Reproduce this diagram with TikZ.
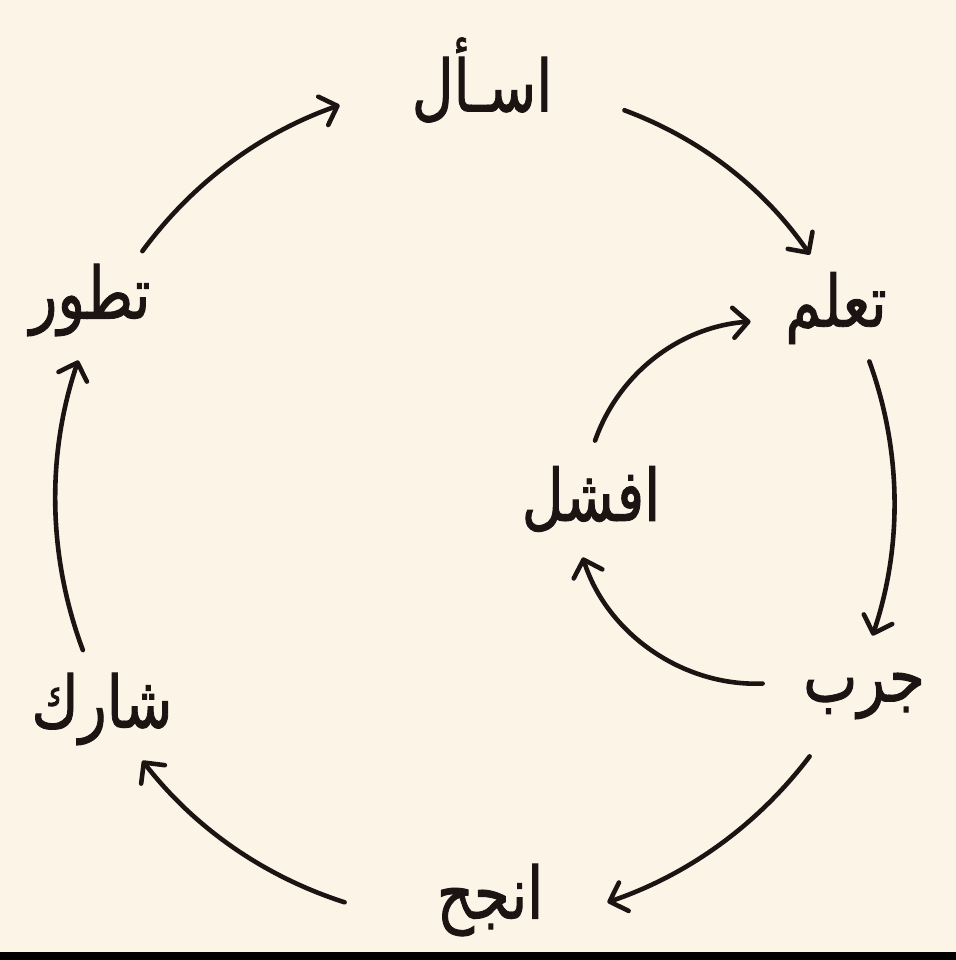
\documentclass[tikz,border=0pt]{standalone}
\usepackage{fontspec}
\newfontfamily\arabicfont[Script=Arabic,FakeStretch=0.8,FakeBold=1.2]{DejaVu Sans}
\TeXXeTstate=1
\usetikzlibrary{arrows.meta}
\definecolor{bg}{RGB}{253,244,232}
\definecolor{ink}{RGB}{28,20,18}
\newcommand{\arword}[2][0pt]{\makebox[0pt]{\kern#1\arabicfont\beginR #2\endR}}
\begin{document}
\begin{tikzpicture}[x=0.5pt,y=-0.5pt,
  word/.style={inner sep=0pt, text=ink, font=\fontsize{36}{42}\selectfont},
  arr/.style={draw=ink, line width=2.3pt, line cap=round,
    -{Straight Barb[length=7.5pt,width=15pt,round]}, looseness=0.88}]
\fill[bg] (0,0) rectangle (956,960);
\fill[black] (0,952) rectangle (956,960);
\useasboundingbox (0,0) rectangle (956,960);

\node[word, minimum width=52pt,  minimum height=60pt]   (T) at (90,300)  {\arword{تطور}};
\node[word, minimum width=142pt, minimum height=27pt]   (S) at (482,80)  {\arword{اسـأل}};
\node[word, minimum width=85pt,  minimum height=53pt]   (L) at (836,308) {\arword{تعلم}};
\node[word, minimum width=101pt, minimum height=60pt]   (J) at (864,696) {\arword{جرب}};
\node[word, minimum width=131pt, minimum height=34pt]   (N) at (476,900) {\arword[14pt]{انجح}};
\node[word, minimum width=40pt,  minimum height=58.5pt] (K) at (102,709) {\arword{شارك}};
\node[word, minimum width=60pt,  minimum height=58pt]   (F) at (591,499) {\arword{افشل}};

\draw[arr] (T.43)  to[bend left=17.2] (S.190);
\draw[arr] (S.348) to[bend left=17.5] (L.116);
\draw[arr] (L.302) to[bend left=19.3] (J.82);
\draw[arr] (J.228) to[bend left=17]   (N.359);
\draw[arr] (N.181) to[bend left=17.2] (K.308);
\draw[arr] (K.108) to[bend left=19.6] (T.259);
\draw[arr, looseness=0.93] (J.173) to[bend left=37.4] (F.262);
\draw[arr, looseness=0.93] (F.86)  to[bend left=33.3] (L.189);
\end{tikzpicture}
\end{document}
